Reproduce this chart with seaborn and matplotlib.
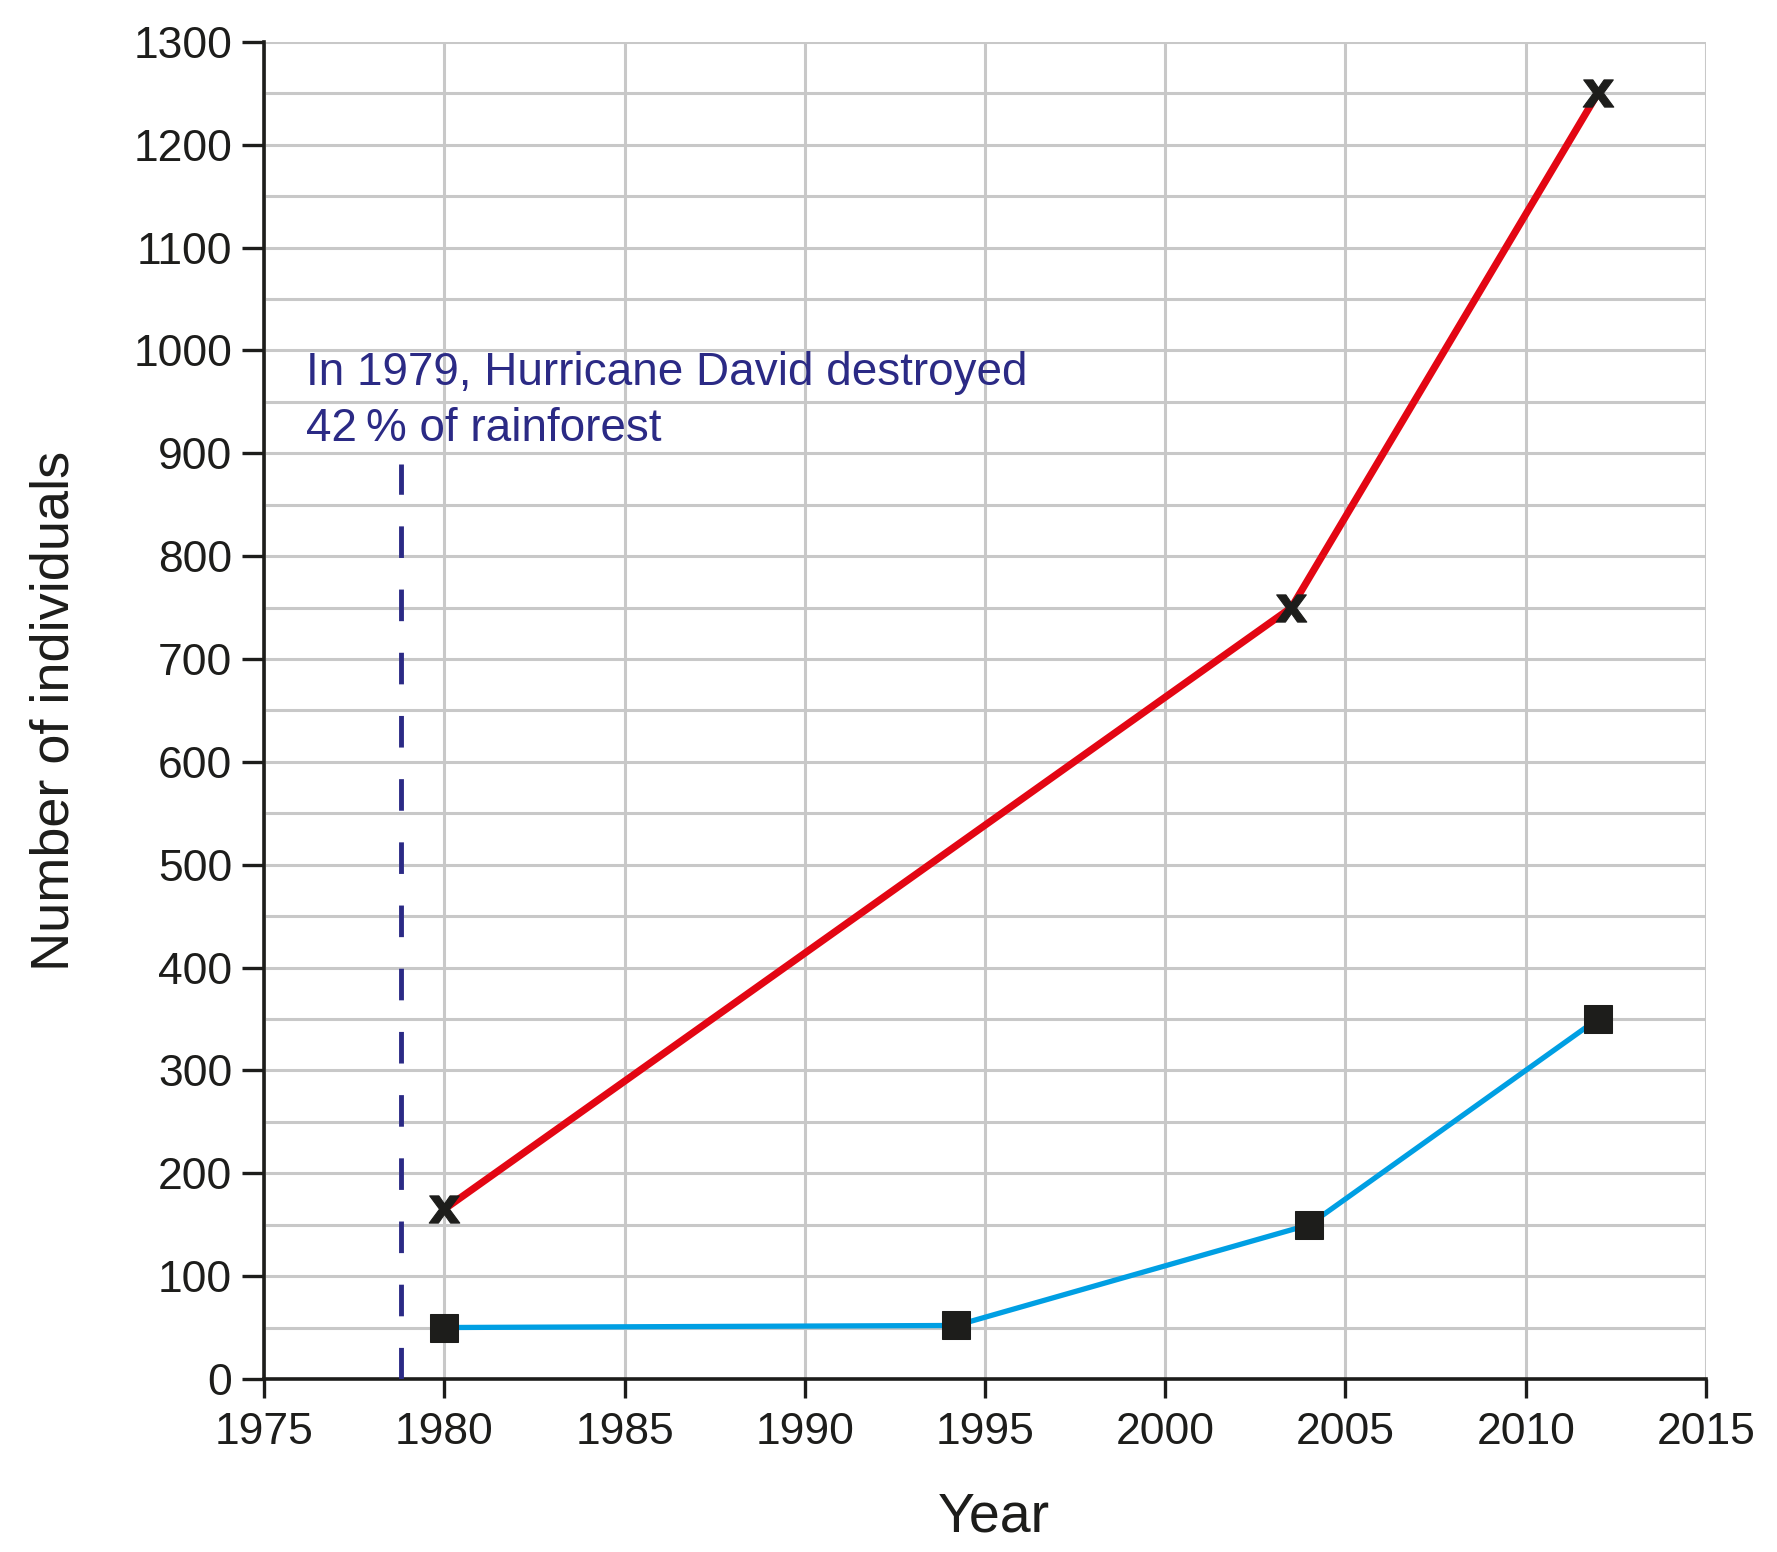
import matplotlib
matplotlib.use("Agg")
import matplotlib.pyplot as plt
from matplotlib.ticker import MultipleLocator
import seaborn as sns
import pandas as pd

red_years = [1980, 2003.5, 2012]
red_counts = [165, 750, 1250]
blue_years = [1980, 1994.2, 2004, 2012]
blue_counts = [50, 52, 150, 350]
hurricane_year = 1978.8
hurricane_top = 890
note = "In 1979, Hurricane David destroyed\n42\u2009% of rainforest"

x_ticks = list(range(1975, 2016, 5))
y_ticks = list(range(0, 1301, 100))

sns.set_style("white")
plt.rcParams['font.family'] = ['Liberation Sans', 'DejaVu Sans']

ink = "#1d1d1b"
fig = plt.figure(figsize=(17.77, 15.52), dpi=100)
ax = fig.add_axes([0.1486, 0.1115, 0.8114, 0.8615])

red = pd.DataFrame({"year": red_years, "n": red_counts})
blue = pd.DataFrame({"year": blue_years, "n": blue_counts})

sns.lineplot(data=red, x="year", y="n", ax=ax, color="#e30613", lw=5.2,
             marker="$\\mathbf{x}$", ms=22, mew=0.8, mec=ink, mfc=ink, zorder=4)
sns.lineplot(data=blue, x="year", y="n", ax=ax, color="#009fe3", lw=3.8,
             marker="s", ms=20, mec=ink, mfc=ink, zorder=4)

ax.plot([hurricane_year, hurricane_year], [0, hurricane_top], color="#2b2a85",
        lw=3.5, ls=(0, (6.5, 6.5)), zorder=3)
ax.text(0.029, 0.769, note, transform=ax.transAxes, color="#2b2a85",
        fontsize=33, va="top", ha="left", linespacing=1.36)

ax.set_xlim(1975, 2015)
ax.set_ylim(0, 1300)
ax.set_xticks(x_ticks)
ax.set_yticks(y_ticks)
ax.yaxis.set_minor_locator(MultipleLocator(50))
ax.grid(True, which="both", color="#c8c8c8", lw=2.2, zorder=0)
ax.set_axisbelow(True)

for s in ["top", "right"]:
    ax.spines[s].set_visible(False)
for s in ["left", "bottom"]:
    ax.spines[s].set_color(ink)
    ax.spines[s].set_linewidth(2.6)

ax.tick_params(axis="x", which="major", direction="out", length=14, width=2.4,
               colors=ink, labelsize=32, pad=10, bottom=True)
ax.tick_params(axis="y", which="major", direction="out", length=16, width=2.4,
               colors=ink, labelsize=32, pad=7, left=True)
ax.tick_params(axis="y", which="minor", length=0)

ax.set_xlabel("Year", fontsize=40, color=ink)
ax.xaxis.set_label_coords(0.506, -0.084)
ax.set_ylabel("Number of individuals", fontsize=39, color=ink, labelpad=39)

fig.savefig("out.png", dpi=100)
